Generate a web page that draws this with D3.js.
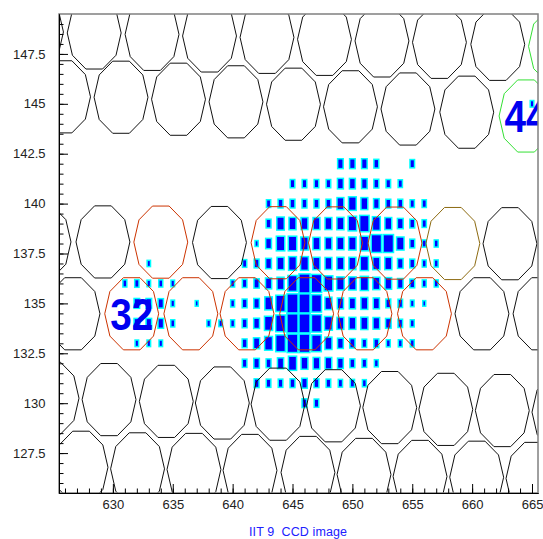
<!DOCTYPE html>
<html><head><meta charset="utf-8">
<script src="https://cdn.jsdelivr.net/npm/d3@7"></script>
<style>body{margin:0;background:#fff}svg{display:block}</style>
</head><body>
<svg id="chart" width="543" height="539"></svg>
<script>
// ---- CCD image: bin rows (y), first bin column, counts per consecutive column ----
const rowY     = [145, 142, 141, 140, 139, 138, 137, 136, 135, 134, 133, 132, 131, 130];
const rowStart = [665, 649, 645, 643, 643, 642, 633, 631, 632, 632, 632, 641, 642, 646];
const rowCounts = [
  [12],
  [25,25,25,20,0,0,18],
  [18,18,18,18,28,28,25,20,18,16],
  [16,20,20,20,20,20,36,45,36,25,20,20,16,16],
  [20,42,38,36,36,36,38,52,64,46,36,27,20,16],
  [10,27,52,52,42,38,36,38,42,52,76,76,42,20,14,14],
  [11,0,0,0,0,0,0,0,16,20,27,38,46,46,38,36,38,38,49,38,38,25,20,14,14],
  [14,16,12,14,12,0,0,0,0,14,18,23,30,38,61,86,77,56,42,42,49,38,34,25,20,14,14],
  [25,25,23,12,0,9,0,0,14,20,25,42,64,94,94,72,38,30,30,36,30,20,18,12,9],
  [25,25,25,14,0,0,12,12,14,20,27,49,67,94,94,72,46,36,36,38,34,25,18,14],
  [12,12,12,0,0,0,0,0,0,20,30,46,67,81,81,67,38,27,23,18,20,14,14,14],
  [18,25,20,30,49,36,34,34,27,20,18,14],
  [20,18,18,20,25,20,18,16,16,14],
  [20,18]
];
const countMax = 100;

// ---- camera pixel centres in CCD coordinates ----
const pixelX = [
  623.62,628.44,633.27,638.07,642.87,647.67,652.47,657.27,662.14,666.96,
  625.88,630.68,635.48,640.28,645.08,649.84,654.64,659.55,664.50,
  624.25,629.17,634.00,638.90,643.79,648.59,653.56,658.39,663.16,
  626.67,631.57,636.51,641.20,646.18,651.05,656.02,660.82,665.67,
  624.92,629.68,634.46,639.14,643.79,648.42,653.12,657.80,662.52,667.25,
  627.34,632.06,636.77,641.45,646.29,650.97,655.65,660.38,665.08
];
const pixelY = [
  148.60,148.55,148.48,148.40,148.33,148.23,148.15,148.08,147.98,147.88,
  145.35,145.33,145.23,145.10,144.98,144.85,144.74,144.58,144.39,
  138.08,138.08,138.07,138.05,138.04,138.03,138.02,138.00,137.99,
  134.48,134.48,134.48,134.48,134.48,134.48,134.48,134.48,134.48,
  130.25,130.18,130.09,130.01,129.95,129.87,129.78,129.69,129.63,129.55,
  126.79,126.71,126.68,126.63,126.53,126.43,126.33,126.29,126.23
];
// 0 = idle, 1 = signal, 2 = boundary, 3 = star
const pixelState = [
  0,0,0,0,0,0,0,0,0,3,
  0,0,0,0,0,0,0,0,3,
  0,0,1,0,1,1,1,2,0,
  0,1,1,1,1,1,1,0,0,
  0,0,0,0,0,0,0,0,0,0,
  0,0,0,0,0,0,0,0,0
];
const labelText  = ["32", "44"];
const labelPixel = [29, 18];

const xTicksMajor = [630, 635, 640, 645, 650, 655, 660, 665];
const yTicksMajor = [127.5, 130, 132.5, 135, 137.5, 140, 142.5, 145, 147.5];
const titleText = "IIT 9  CCD image";

// ---- layout ----
const W = 543, H = 539;
const m = {left: 59, top: 14, right: 5, bottom: 46};
const fw = W - m.left - m.right, fh = H - m.top - m.bottom;
const pixelRx = 2.25, pixelRy = 1.9;
const stateColor = ["#111111", "#cc3300", "#8c6a10", "#33e033"];

const x = d3.scaleLinear().domain([625.5, 665.5]).range([0, fw]);
const y = d3.scaleLinear().domain([125.5, 149.5]).range([fh, 0]);
// box side as a fraction of the bin, growing with sqrt(count)
const side = d3.scaleSqrt().domain([0, countMax]).range([0, 1.08]).clamp(true);

const svg = d3.select("#chart");
svg.append("defs").append("clipPath").attr("id", "frame")
  .append("rect").attr("width", fw).attr("height", fh);

const g = svg.append("g").attr("transform", `translate(${m.left},${m.top})`);
const plot = g.append("g").attr("clip-path", "url(#frame)");

// histogram boxes: blue fill with a cyan outline
const bins = [];
rowY.forEach((yy, i) => rowCounts[i].forEach((c, j) => {
  if (c > 0) bins.push({x: rowStart[i] + j, y: yy, c});
}));
const bw = x(1) - x(0), bh = y(0) - y(1);
const sw = 1.5;
const frac = c => Math.min(1, side(c));
plot.append("g").selectAll("rect").data(bins).join("rect")
  .attr("x", d => x(d.x) - bw * frac(d.c) / 2 + sw / 2 - 0.3)
  .attr("y", d => y(d.y) - bh * frac(d.c) / 2 + sw / 2 - 0.3)
  .attr("width", d => Math.max(0.5, bw * frac(d.c) - sw + 0.6))
  .attr("height", d => Math.max(0.5, bh * frac(d.c) - sw + 0.6))
  .attr("fill", "#0000ff")
  .attr("stroke", "#00ffff")
  .attr("stroke-width", sw);

// camera pixels (decagons)
const line = d3.line().x(d => x(d[0])).y(d => y(d[1]));
const decagon = (cx, cy) => {
  const pts = d3.range(11).map(k => {
    const a = k * Math.PI / 5;
    return [cx + pixelRx * Math.cos(a), cy + pixelRy * Math.sin(a)];
  });
  return line(pts);
};
const pixels = pixelX.map((px, i) => ({x: px, y: pixelY[i], s: pixelState[i]}));
plot.append("g").selectAll("path").data(pixels).join("path")
  .attr("d", d => decagon(d.x, d.y))
  .attr("fill", "none")
  .attr("stroke", d => stateColor[d.s])
  .attr("stroke-width", 1);

// pixel numbers
plot.append("g").selectAll("text").data(labelText).join("text")
  .attr("transform", (t, i) => `translate(${x(pixelX[labelPixel[i]])},${y(pixelY[labelPixel[i]])}) scale(0.88,1)`)
  .attr("text-anchor", "middle")
  .attr("dy", "0.36em")
  .attr("font-family", "Liberation Sans, Arial, sans-serif")
  .attr("font-weight", "bold")
  .attr("font-size", 44)
  .attr("fill", "#0000f0")
  .text(t => t);

// frame
g.append("rect").attr("width", fw).attr("height", fh)
  .attr("fill", "none").attr("stroke", "#808080").attr("stroke-width", 1.5);

// axes with ticks drawn inside the frame
const font = "Liberation Sans, Arial, sans-serif";
const styleAxis = sel => {
  sel.select(".domain").attr("stroke", "#000");
  sel.selectAll("line").attr("stroke", "#000");
  sel.selectAll("text").attr("font-family", font).attr("font-size", 13).attr("fill", "#222");
};
g.append("g").attr("transform", `translate(0,${fh})`)
  .call(d3.axisBottom(x).tickValues(d3.range(626, 666)).tickSize(-4.5).tickFormat("").tickSizeOuter(0))
  .call(styleAxis);
g.append("g").attr("transform", `translate(0,${fh})`)
  .call(d3.axisBottom(x).tickValues(xTicksMajor).tickSize(-9).tickPadding(6.5).tickSizeOuter(0).tickFormat(d3.format("d")))
  .call(styleAxis);
g.append("g")
  .call(d3.axisLeft(y).tickValues(d3.range(126, 149.01, 0.5)).tickSize(-4.5).tickFormat("").tickSizeOuter(0))
  .call(styleAxis);
g.append("g")
  .call(d3.axisLeft(y).tickValues(yTicksMajor).tickSize(-9).tickPadding(13.5).tickSizeOuter(0).tickFormat(d => String(d)))
  .call(styleAxis);

// title
svg.append("text")
  .attr("x", 249).attr("y", 536)
  .attr("font-family", font).attr("font-size", 12.5)
  .attr("textLength", 98).attr("lengthAdjust", "spacing")
  .attr("fill", "#2020ff")
  .style("white-space", "pre")
  .text(titleText);
</script>
</body></html>
